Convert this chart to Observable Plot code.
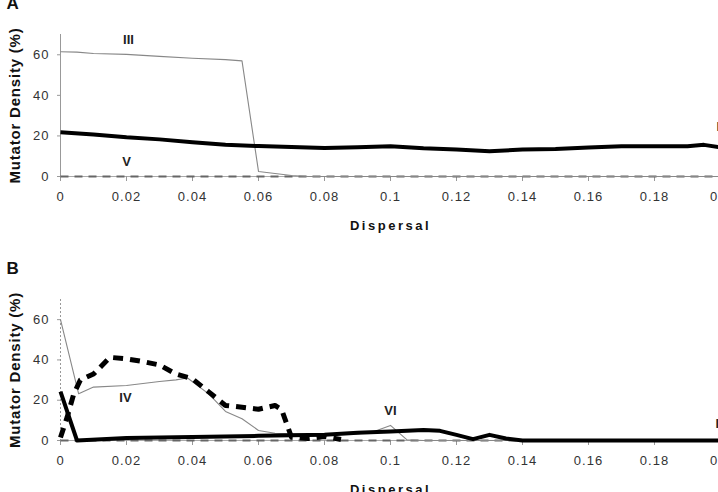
<!DOCTYPE html>
<html>
<head>
<meta charset="utf-8">
<script src="https://cdn.jsdelivr.net/npm/d3@7"></script>
<script src="https://cdn.jsdelivr.net/npm/@observablehq/plot@0.6"></script>
<style>
  html, body { margin: 0; padding: 0; overflow: hidden; background: #fff; }
  #chart { width: 718px; height: 492px; overflow: hidden; }
  #chart svg { display: block; overflow: visible; max-width: none !important; width: 760px !important; height: 250px !important; }
</style>
</head>
<body>
<div id="chart"></div>
<script>
// Tick values
const xTicks = [0, 0.02, 0.04, 0.06, 0.08, 0.1, 0.12, 0.14, 0.16, 0.18, 0.2];
const yTicks = [0, 20, 40, 60];

// Panel A series
const aI_x   = [0, 0.01, 0.02, 0.03, 0.04, 0.05, 0.06, 0.07, 0.08, 0.09, 0.1, 0.11, 0.12, 0.13, 0.14, 0.15, 0.16, 0.17, 0.18, 0.19, 0.195, 0.2];
const aI_y   = [21.8, 20.7, 19.3, 18.3, 16.9, 15.6, 15.0, 14.6, 14.0, 14.4, 14.9, 13.9, 13.3, 12.4, 13.3, 13.6, 14.3, 14.9, 14.9, 14.9, 15.6, 14.4];
const aIII_x = [0, 0.005, 0.01, 0.02, 0.03, 0.04, 0.05, 0.055, 0.06, 0.065, 0.07, 0.075, 0.2];
const aIII_y = [61.5, 61.3, 60.6, 60.2, 59.2, 58.3, 57.6, 57.0, 2.5, 1.5, 0.5, 0, 0];
const aV_x   = [0, 0.2];
const aV_y   = [0, 0];

// Panel B series
const bIV_x  = [0, 0.0055, 0.01, 0.02, 0.03, 0.035, 0.0385, 0.045, 0.05, 0.055, 0.06, 0.065, 0.07, 0.08, 0.09, 0.095, 0.1, 0.105, 0.11, 0.2];
const bIV_y  = [60, 23.2, 26.5, 27.3, 29.3, 30.1, 31.0, 23.0, 14.4, 10.8, 5.0, 3.6, 3.3, 3.0, 3.2, 4.5, 7.5, 0.3, 0, 0];
const bII_x  = [0, 0.005, 0.02, 0.04, 0.06, 0.08, 0.09, 0.1, 0.11, 0.115, 0.12, 0.125, 0.13, 0.135, 0.14, 0.2];
const bII_y  = [24.3, 0, 1.2, 1.7, 2.3, 2.8, 3.8, 4.5, 5.2, 4.8, 2.8, 0.7, 2.8, 1.0, 0, 0];
const bD_x   = [0, 0.002, 0.004, 0.006, 0.01, 0.015, 0.02, 0.025, 0.03, 0.035, 0.04, 0.045, 0.05, 0.055, 0.06, 0.065, 0.067, 0.07, 0.075, 0.08, 0.085];
const bD_y   = [1.5, 11.5, 23, 30, 33, 41.3, 40.5, 39.2, 37.5, 33, 30.6, 24, 17.4, 16.5, 15.5, 17.4, 15.4, 1.6, 1.0, 2.0, 0.5];
const bZ_x   = [0, 0.14];
const bZ_y   = [0, 0];

// Labels
const aLabels = [
  {x: 0.0206, y: 67.5, text: "III", anchor: "middle"},
  {x: 0.02, y: 7.4, text: "V", anchor: "middle"},
  {x: 0.1988, y: 24.6, text: "I", anchor: "start"}
];
const bLabels = [
  {x: 0.0197, y: 21.3, text: "IV", anchor: "middle"},
  {x: 0.1, y: 14.9, text: "VI", anchor: "middle"},
  {x: 0.1985, y: 8.4, text: "II", anchor: "start"}
];

const yTitle = "Mutator Density (%)";
const xTitle = "Dispersal";

const zip = (xs, ys) => xs.map((x, i) => ({x, y: ys[i]}));
const fmt = d => String(+d.toFixed(2));
const FONT = "'Liberation Sans', Arial, Helvetica, sans-serif";

function panel({letter, lines, labels, marginTop, marginBottom, dottedAxis}) {
  const svg = Plot.plot({
    width: 760,
    height: 250,
    marginLeft: 60,
    marginRight: 40,
    marginTop,
    marginBottom,
    style: {fontFamily: FONT, background: "transparent", color: "#222"},
    x: {domain: [0, 0.2]},
    y: {domain: [0, 70]},
    marks: [
      Plot.ruleY([0], {stroke: "#aaa", strokeWidth: 1}),
      Plot.ruleX([0], {stroke: "#999", strokeWidth: 1, strokeDasharray: dottedAxis ? "2,2" : null}),
      Plot.axisX(xTicks, {tickSize: 5, tickPadding: 10, tickFormat: fmt, fontSize: 13, stroke: "#999", fill: "#333", label: null}),
      Plot.axisY(yTicks, {tickSize: 3, tickPadding: 8, fontSize: 13, stroke: "#999", fill: "#333", label: null}),
      ...lines.map(l => Plot.line(l.data, {x: "x", y: "y", stroke: l.stroke, strokeWidth: l.width, strokeDasharray: l.dash, strokeLinejoin: "round", strokeLinecap: "butt"})),
      Plot.text(labels.filter(d => d.anchor === "middle"), {x: "x", y: "y", text: "text", fontWeight: "bold", fontSize: 13, fill: "#222", textAnchor: "middle"}),
      Plot.text(labels.filter(d => d.anchor === "start"), {x: "x", y: "y", text: "text", fontWeight: "bold", fontSize: 13, fill: "#222", textAnchor: "start"}),
      Plot.text([yTitle], {text: d => d, frameAnchor: "left", dx: -45, rotate: -90, textAnchor: "middle", lineAnchor: "middle", fontWeight: "bold", fontSize: 15, fill: "#111"}),
      Plot.text([xTitle], {text: d => d, frameAnchor: "bottom", dx: 0, dy: 49, lineAnchor: "middle", textAnchor: "middle", fontWeight: "bold", fontSize: 13, fill: "#111"}),
      Plot.text([letter], {text: d => d, frameAnchor: "top-left", dx: -54, dy: -38, lineAnchor: "top", textAnchor: "start", fontWeight: "bold", fontSize: 17, fill: "#111"})
    ]
  });
  const sel = d3.select(svg);
  sel.selectAll("text").filter(function() { return this.textContent === xTitle; }).style("letter-spacing", "2.5px");
  sel.selectAll("text").filter(function() { return this.textContent === yTitle; }).style("letter-spacing", "0.8px");
  sel.selectAll('g[aria-label="x-axis tick label"] text, g[aria-label="y-axis tick label"] text').style("letter-spacing", "1px");
  return svg;
}

const chart = document.getElementById("chart");
chart.append(panel({
  letter: "A",
  marginTop: 34,
  marginBottom: 74,
  dottedAxis: false,
  labels: aLabels,
  lines: [
    {data: zip(aV_x, aV_y), stroke: "#666", width: 2, dash: "8,6"},
    {data: zip(aIII_x, aIII_y), stroke: "#888", width: 1.1, dash: null},
    {data: zip(aI_x, aI_y), stroke: "#000", width: 4, dash: null}
  ]
}));
chart.append(panel({
  letter: "B",
  marginTop: 49,
  marginBottom: 60,
  dottedAxis: true,
  labels: bLabels,
  lines: [
    {data: zip(bZ_x, bZ_y), stroke: "#666", width: 2, dash: "8,6"},
    {data: zip(bIV_x, bIV_y), stroke: "#888", width: 1.1, dash: null},
    {data: zip(bII_x, bII_y), stroke: "#000", width: 4, dash: null},
    {data: zip(bD_x, bD_y), stroke: "#000", width: 5, dash: "10,7"}
  ]
}));
</script>
</body>
</html>
